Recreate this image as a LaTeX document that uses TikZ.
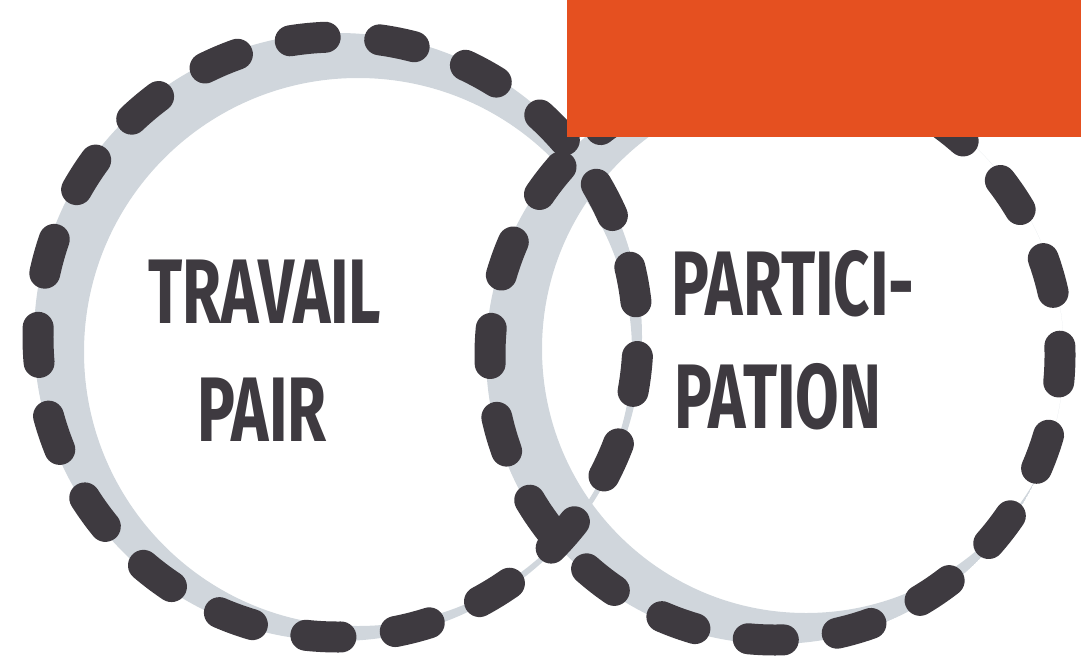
\documentclass[tikz,border=0pt]{standalone}
\usepackage{fontspec}
\setmainfont{Fira Sans}
\usepackage{graphicx}
\usetikzlibrary{positioning}
\definecolor{markergray}{RGB}{62,58,64}
\definecolor{bandgray}{RGB}{208,214,220}
\definecolor{titleorange}{RGB}{229,80,32}

\begin{document}
\begin{tikzpicture}[
    x=0.02cm, y=0.02cm,
    band/.style={fill=bandgray, even odd rule},
    ring/.style={draw=markergray, line width=0.62cm, line cap=round},
    hand/.style={text=markergray, inner sep=0pt, font=\fontsize{36}{40}\selectfont\bfseries},
  ]
  \useasboundingbox (0,0) rectangle (1081,657);
  \coordinate (lc) at (338,320);
  \coordinate (rc) at (775,302);

  % gray marker bands under the dashes
  \fill[band] (lc) circle[radius=304] (358,305) circle[radius=274];
  \begin{scope}
    \clip (rc) circle[radius=289];
    \fill[band] (rc) circle[radius=289] (806,308) circle[radius=264];
  \end{scope}

  % dashed rings
  \draw[ring, dash pattern=on 20pt off 31.09pt, dash phase=31pt] (lc) circle[radius=300];
  \draw[ring, dash pattern=on 20pt off 30.95pt, dash phase=15pt] (rc) circle[radius=285];

  \fill[titleorange] (567,520) rectangle (1081,657);

  \node[hand] (travail) at (265,365) {\scalebox{1}[1.45]{TRAVAIL}};
  \node[hand] (pair) at (262,247) {\scalebox{1}[1.45]{PAIR}};
  \node[hand] (partici) at (793,373) {\scalebox{1}[1.45]{PARTICI-}};
  \node[hand] (pation) at (778,260) {\scalebox{1}[1.45]{PATION}};
\end{tikzpicture}
\end{document}
